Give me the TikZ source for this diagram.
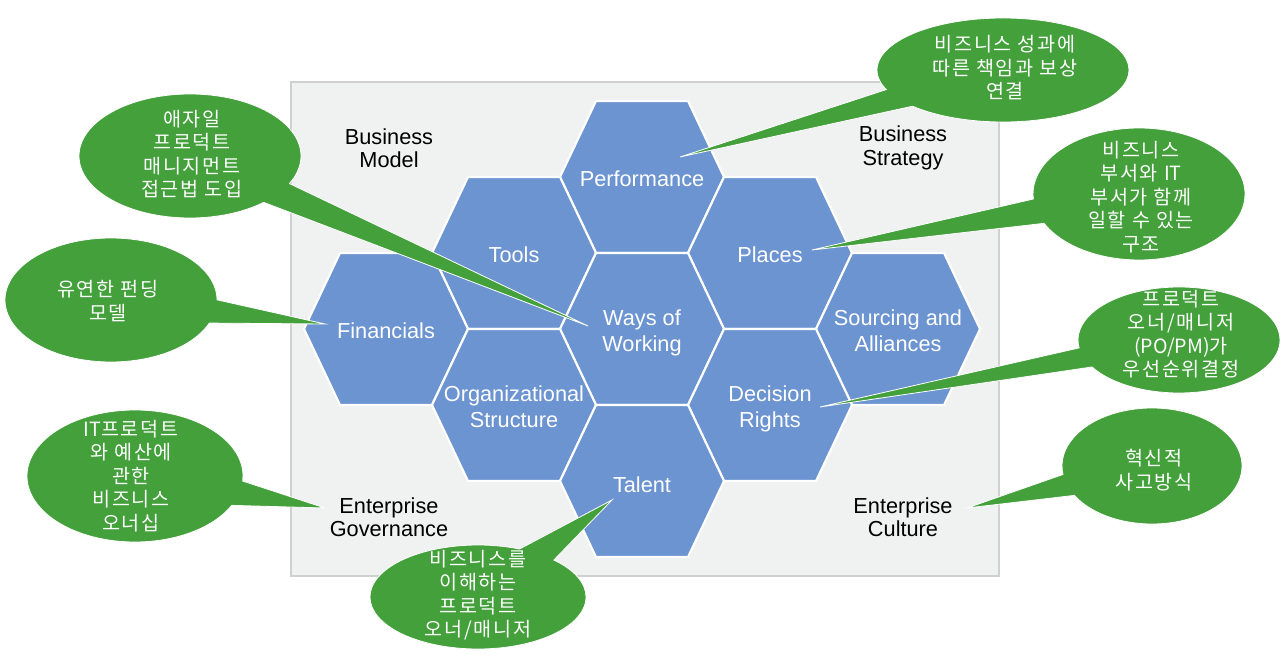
\documentclass[tikz,border=0pt]{standalone}
\usepackage{fontspec}
\setmainfont{Liberation Sans}
\newfontfamily\krfont[LetterSpace=9]{Noto Sans CJK KR}
\newfontfamily\krlatin{Noto Sans CJK KR}
\usetikzlibrary{shapes.callouts}
\definecolor{hexblue}{RGB}{108,148,209}
\definecolor{bubblegreen}{RGB}{67,160,59}
\definecolor{panelgray}{RGB}{240,241,241}
\definecolor{panelline}{RGB}{208,208,208}

% one hexagon cell: [text shift], name, centre, text
\newcommand{\hexcell}[4][-1.5pt]{%
  \filldraw[hexbody, shift={(#3)}] (-82,0) -- (-46,76) -- (46,76) -- (82,0)
    -- (46,-76) -- (-46,-76) -- cycle;
  \node[hextext,yshift=#1] (#2) at (#3) {#4};}

\begin{document}
\begin{tikzpicture}[x=0.75pt,y=-0.75pt]

%
% Styles
%
\tikzstyle{hexbody} = [fill=hexblue,draw=white,line width=1.6pt,line join=miter]
\tikzstyle{hextext} = [text=white,align=center,font=\fontsize{16.3}{19.5}\selectfont]
\tikzstyle{arealabel} = [text=black,align=center,font=\fontsize{16.3}{17.5}\selectfont]
\tikzstyle{bubble} = [ellipse callout,fill=bubblegreen,draw=white,line width=0.6pt,inner sep=0pt,callout pointer arc=22]
\tikzstyle{bubbletext} = [text=white,align=center,font=\krfont\fontsize{14.7}{17.6}\selectfont]

\useasboundingbox (0,0) rectangle (1280,655);
\filldraw[fill=panelgray,draw=panelline,line width=0.8pt] (291,82) rectangle (999,576);

% hexagons
\hexcell[-1pt]{perf}{642,177}{Performance}
\hexcell[-1pt]{tools}{514,253}{Tools}
\hexcell[-1pt]{places}{770,253}{Places}
\hexcell[-1pt]{fin}{386,329}{Financials}
\hexcell[-3pt]{wow}{642,329}{Ways of\\Working}
\hexcell{sourcing}{898,329}{Sourcing and\\Alliances}
\hexcell{org}{514,405}{Organizational\\Structure}
\hexcell[-3pt]{dec}{770,405}{Decision\\Rights}
\hexcell[-3pt]{talent}{642,481}{Talent}

% corner labels
\node[arealabel] (bizmodel) at (389,148) {Business\\Model};
\node[arealabel] (bizstrat) at (903,148) {Business\\Strategy};
\node[arealabel] (entgov) at (389,517) {Enterprise\\Governance};
\node[arealabel] (entcult) at (903,517) {Enterprise\\Culture};

% pointer tips
\coordinate (perftip) at (680,157);
\coordinate (wowtip) at (588,326);
\coordinate (placestip) at (812,250);
\coordinate (fintip) at (325,324);
\coordinate (dectip) at (820,407);
\coordinate (govtip) at (325,508);
\coordinate (culttip) at (967,508);
\coordinate (talenttip) at (612,500);

% callouts
\node[bubble,minimum width=189pt,minimum height=78pt,callout absolute pointer=(perftip)] (perfbubble) at (1003,70) {};
\node[bubbletext] (perfnote) at (1005,68) {비즈니스 성과에\\따른 책임과 보상\\연결};

\node[bubble,minimum width=166.5pt,minimum height=93pt,callout absolute pointer=(wowtip)] (wowbubble) at (190,156) {};
\node[bubbletext] (wownote) at (192,154) {애자일\\프로덕트\\매니지먼트\\접근법 도입};

\node[bubble,minimum width=159pt,minimum height=99pt,callout absolute pointer=(placestip)] (placesbubble) at (1139,194) {};
\node[bubbletext] (placesnote) at (1141,197) {비즈니스\\부서와 {\krlatin IT}\\부서가 함께\\일할 수 있는\\구조};

\node[bubble,minimum width=159pt,minimum height=93pt,callout absolute pointer=(fintip)] (finbubble) at (111,300) {};
\node[bubbletext] (finnote) at (108,301) {유연한 펀딩\\모델};

\node[bubble,minimum width=151.5pt,minimum height=79.5pt,callout absolute pointer=(dectip)] (decbubble) at (1179,340) {};
\node[bubbletext] (decnote) at (1181,334) {프로덕트\\오너/매니저\\{\krlatin (PO/PM)}가\\우선순위결정};

\node[bubble,minimum width=162pt,minimum height=99pt,callout absolute pointer=(govtip)] (govbubble) at (135,476) {};
\node[bubbletext] (govnote) at (131,476) {{\krlatin IT}프로덕트\\와 예산에\\관한\\비즈니스\\오너십};

\node[bubble,minimum width=135pt,minimum height=87pt,callout absolute pointer=(culttip)] (cultbubble) at (1152,466) {};
\node[bubbletext] (cultnote) at (1154,470) {혁신적\\사고방식};

\node[bubble,minimum width=162pt,minimum height=78pt,callout absolute pointer=(talenttip)] (talentbubble) at (478,597) {};
\node[bubbletext] (talentnote) at (478,595) {비즈니스를\\이해하는\\프로덕트\\오너/매니저};

\end{tikzpicture}
\end{document}
